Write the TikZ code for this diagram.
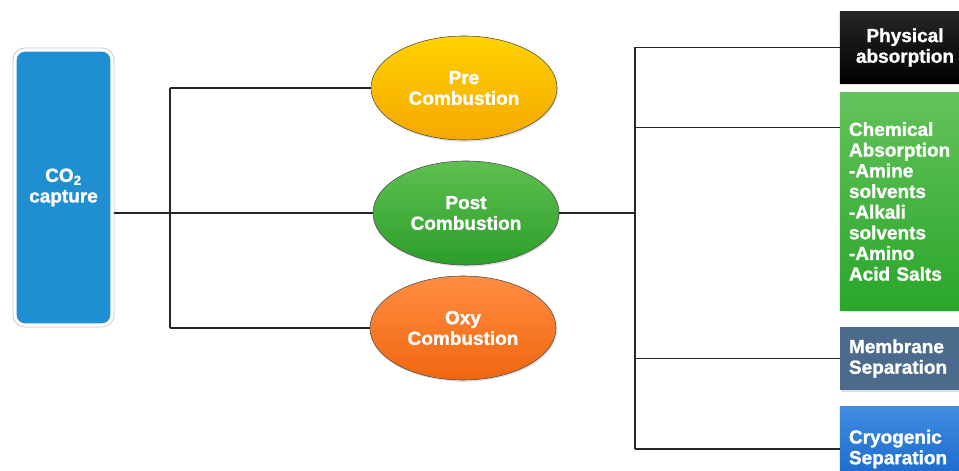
\documentclass[tikz,border=0pt]{standalone}
\usepackage{fontspec}
\setmainfont{Liberation Sans}[BoldFeatures={FakeBold=1.2}]
\usetikzlibrary{positioning}
\usetikzlibrary{shapes.geometric, shadows}

\definecolor{capblue}{RGB}{31,143,210}
\definecolor{preTop}{RGB}{255,210,0}
\definecolor{preBot}{RGB}{245,168,0}
\definecolor{postTop}{RGB}{94,192,80}
\definecolor{postBot}{RGB}{44,158,42}
\definecolor{oxyTop}{RGB}{255,142,66}
\definecolor{oxyBot}{RGB}{240,102,16}
\definecolor{chemTop}{RGB}{100,194,92}
\definecolor{chemBot}{RGB}{42,166,42}
\definecolor{membBlue}{RGB}{75,106,140}
\definecolor{cryoTop}{RGB}{64,140,224}
\definecolor{cryoBot}{RGB}{20,100,200}

\begin{document}
\begin{tikzpicture}[x=0.025cm,y=-0.025cm,
  every node/.style={font=\fontsize{13.5}{14.7}\selectfont\bfseries, text=white},
  link/.style={draw=black!85, line width=0.9pt},
  softshadow/.style={drop shadow={opacity=0.25, shadow xshift=0.6pt, shadow yshift=-1.2pt}},
  capbox/.style={rectangle, rounded corners=0.25cm, fill=capblue, draw=white, line width=2.2pt,
    preaction={draw=gray!45, line width=3.4pt}, minimum width=2.425cm, minimum height=6.875cm, align=center},
  oval/.style={ellipse, draw=black!70, thin, minimum width=4.65cm, minimum height=2.6cm,
    inner sep=0pt, align=center, softshadow},
  tag/.style={rectangle, inner xsep=0.225cm, inner ysep=0pt, minimum width=3.25cm,
    text width=2.8cm, align=left, softshadow}
]
\useasboundingbox (0,0) rectangle (959,471);

% source box
\node[capbox] (capture) at (63.5,187.5) {CO\textsubscript{2}\\capture};

% the three routes
\node[oval, top color=preTop, bottom color=preBot] (pre) at (464,88) {Pre\\Combustion};
\node[oval, top color=postTop, bottom color=postBot] (post) at (466,213) {Post\\Combustion};
\node[oval, top color=oxyTop, bottom color=oxyBot] (oxy) at (463,328) {Oxy\\Combustion};

% post combustion methods
\node[tag, align=center, top color=black!85, bottom color=black, minimum height=1.775cm] (phys) at (905,47.5) {Physical\\absorption};
\node[tag, top color=chemTop, bottom color=chemBot, minimum height=5.425cm] (chem) at (905,201.5) {Chemical\\Absorption\\-Amine\\solvents\\-Alkali\\solvents\\-Amino\\Acid Salts};
\node[tag, fill=membBlue, minimum height=1.575cm] (memb) at (905,358.5) {Membrane\\Separation};
\node[tag, top color=cryoTop, bottom color=cryoBot, minimum height=2.1cm] (cryo) at (905,449) {Cryogenic\\Separation};

% left bracket
\coordinate (lj) at (170,0);
\draw[link] (capture.east |- post.west) -- (post.west);
\draw[link] (lj |- pre.west) -- (lj |- oxy.west);
\draw[link] (lj |- pre.west) -- (pre.west);
\draw[link] (lj |- oxy.west) -- (oxy.west);

% right bracket
\coordinate (rj) at (635,0);
\path (chem.north west) ++(0,35) coordinate (chemin);
\draw[link] (post.east) -- (rj |- post.east);
\draw[link] (rj |- phys.west) -- (rj |- cryo.west);
\draw[link] (rj |- phys.west) -- (phys.west);
\draw[link] (rj |- chemin) -- (chemin);
\draw[link] (rj |- memb.west) -- (memb.west);
\draw[link] (rj |- cryo.west) -- (cryo.west);

\end{tikzpicture}
\end{document}
